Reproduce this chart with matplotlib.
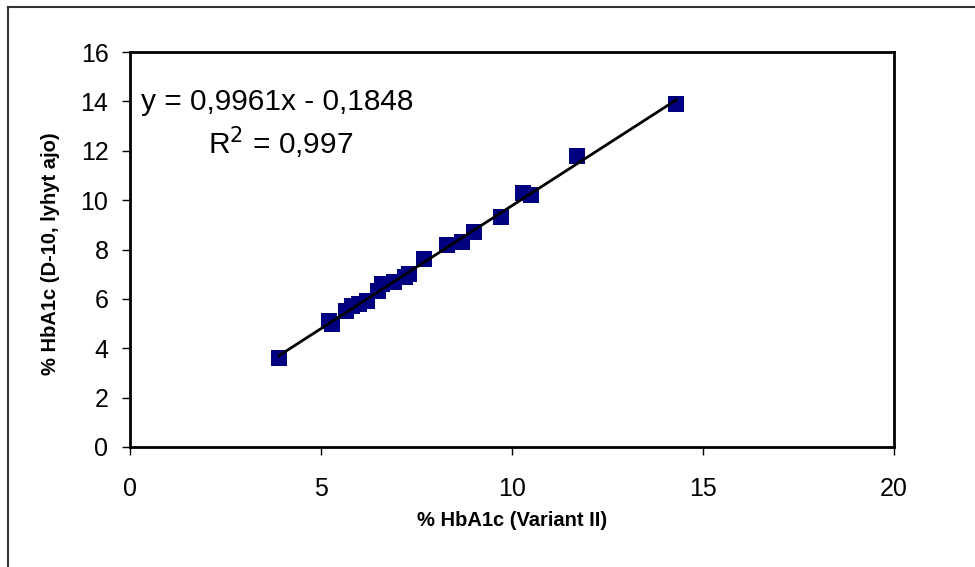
import numpy as np
import matplotlib.pyplot as plt
from matplotlib.lines import Line2D

plt.rcParams['font.family'] = ['Liberation Sans', 'DejaVu Sans']

# % HbA1c, Variant II vs D-10 (lyhyt ajo)
variant_ii = [3.9, 5.2, 5.3, 5.65, 5.8, 6.0, 6.2, 6.5, 6.6, 6.9, 7.2, 7.3, 7.7,
              8.3, 8.7, 9.0, 9.7, 10.3, 10.5, 11.7, 14.3]
d10 = [3.6, 5.1, 5.0, 5.5, 5.7, 5.8, 5.9, 6.3, 6.6, 6.7, 6.9, 7.0, 7.6,
       8.2, 8.3, 8.7, 9.3, 10.3, 10.2, 11.8, 13.9]

slope = 0.9961
intercept = -0.1848
r2 = 0.997

W, H = 975, 567
fig = plt.figure(figsize=(W / 100, H / 100), dpi=100)
ax = fig.add_axes([130 / W, 1 - 447 / H, (894 - 130) / W, (447 - 52) / H])

ax.plot(variant_ii, d10, linestyle='none', marker='s', markersize=11.5,
        color='#000080', markeredgewidth=0, zorder=2)

xs = np.array([min(variant_ii), max(variant_ii)])
ax.plot(xs, slope * xs + intercept, color='black', linewidth=2, zorder=3)

ax.set_xlim(0, 20)
ax.set_ylim(0, 16)
ax.set_xticks([0, 5, 10, 15, 20])
ax.set_yticks(range(0, 17, 2))
ax.tick_params(direction='out', length=5.5, width=1, labelsize=18)
ax.tick_params(axis='x', pad=16)
ax.tick_params(axis='y', pad=10)
for s in ax.spines.values():
    s.set_linewidth(2)

ax.set_xlabel('% HbA1c (Variant II)', fontsize=14.5, fontweight='bold')
ax.set_ylabel('% HbA1c (D-10, lyhyt ajo)', fontsize=14.5, fontweight='bold')
ax.xaxis.set_label_coords(0.5, (447 - 520) / 395)
ax.xaxis.label.set_va('center')
ax.yaxis.set_label_coords((50 - 130) / 764, 0.49)
ax.yaxis.label.set_va('center')

ax.text(141, H - 102, 'y = 0,9961x - 0,1848', transform=None, fontsize=21.5,
        ha='left', va='center')
ax.text(208, H - 143, 'R$^2$ = 0,997', transform=None, fontsize=21.5,
        ha='left', va='center')

# outer chart frame (only left and top visible)
fig.add_artist(Line2D([8 / W, 8 / W], [0, 1 - 7 / H], color='#333333',
                      linewidth=1.5, transform=fig.transFigure))
fig.add_artist(Line2D([8 / W, 1], [1 - 7 / H, 1 - 7 / H], color='#333333',
                      linewidth=1.5, transform=fig.transFigure))

fig.savefig('out.png', dpi=100)
